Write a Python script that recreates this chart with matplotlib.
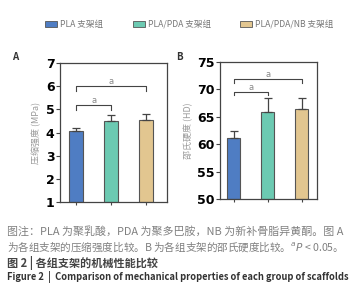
import matplotlib
matplotlib.use("Agg")
import matplotlib.pyplot as plt
from matplotlib.patches import Rectangle

plt.rcParams['font.family'] = ['Noto Sans CJK SC', 'DejaVu Sans']

groups = ["PLA 支架组", "PLA/PDA 支架组", "PLA/PDA/NB 支架组"]
colors = ["#4f7dc3", "#6ccab2", "#e2c690"]

strength = [4.08, 4.48, 4.52]
strength_err = [0.10, 0.28, 0.28]
hardness = [61.2, 65.9, 66.5]
hardness_err = [1.3, 2.6, 2.0]

brk_A = [(0, 1, 5.17, 4.98), (0, 2, 6.0, 5.8)]
brk_B = [(0, 1, 69.6, 68.9), (0, 2, 71.9, 71.2)]

fig = plt.figure(figsize=(3.54, 3.0), dpi=100)
W, H = 354, 300

def ax_at(x0, y0, x1, y1):
    return fig.add_axes([x0 / W, 1 - y1 / H, (x1 - x0) / W, (y1 - y0) / H])

def panel(ax, vals, errs, ylim, yticks, ylabel, brks, xlim, width):
    x = range(len(vals))
    base = ylim[0]
    ax.bar(x, [v - base for v in vals], width=width, color=colors, edgecolor="#555555",
           linewidth=0.8, zorder=2, bottom=base)
    for i, (v, e) in enumerate(zip(vals, errs)):
        ax.errorbar(i, v, yerr=[[0], [e]], color="#444444", capsize=3, elinewidth=0.9,
                    capthick=0.9, zorder=3)
    ax.set_ylim(*ylim)
    ax.set_xlim(*xlim)
    ax.set_yticks(yticks)
    ax.set_yticklabels([str(t) for t in yticks], fontweight="bold", fontsize=9,
                       family="DejaVu Sans")
    ax.set_xticks(list(x))
    ax.set_xticklabels([])
    ax.tick_params(axis="x", length=2.5, width=0.8, color="#444444")
    ax.tick_params(axis="y", length=3, width=0.8, pad=1, color="#444444")
    for s in ax.spines.values():
        s.set_linewidth(0.9)
        s.set_color("#444444")
    ax.set_ylabel(ylabel, color="#9a9a9a", fontsize=6.5, labelpad=3)
    for (a, b, top, low) in brks:
        ax.plot([a, a, b, b], [low, top, top, low], color="#444444", lw=0.8, zorder=4)
        ax.text((a + b) / 2, top, "a", ha="center", va="bottom", fontsize=6,
                color="#888888", family="DejaVu Sans")

axA = ax_at(60, 63, 167, 202)
panel(axA, strength, strength_err, (1, 7), [1, 2, 3, 4, 5, 6, 7], "压缩强度 (MPa)",
      brk_A, (-0.47, 2.6), 0.4)
axB = ax_at(220, 62, 317, 199)
panel(axB, hardness, hardness_err, (50, 75), [50, 55, 60, 65, 70, 75], "邵氏硬度 (HD)",
      brk_B, (-0.4, 2.45), 0.4)

fig.text(12 / W, 1 - 57 / H, "A", fontsize=7, fontweight="bold", ha="left", va="center",
         color="#333333")
fig.text(176 / W, 1 - 57 / H, "B", fontsize=7, fontweight="bold", ha="left", va="center",
         color="#333333")

# legend
leg_x = [45, 133, 240]
for lx, g, c in zip(leg_x, groups, colors):
    fig.patches.append(Rectangle((lx / W, 1 - 26.5 / H), 12 / W, 5 / H, transform=fig.transFigure,
                                 facecolor=c, edgecolor="#555555", linewidth=0.6))
    fig.text((lx + 15) / W, 1 - 24 / H, g, fontsize=6.2, color="#777777", ha="left",
             va="center")

# caption
cap1 = "图注：PLA 为聚乳酸，PDA 为聚多巴胺，NB 为新补骨脂异黄酮。图 A"
cap2 = "为各组支架的压缩强度比较。B 为各组支架的邵氏硬度比较。$^{a}P$ < 0.05。"
cap3 = "图 2 | 各组支架的机械性能比较"
cap4 = "Figure 2  |  Comparison of mechanical properties of each group of scaffolds"
fig.text(7 / W, 1 - 231 / H, cap1, fontsize=7.9, color="#808080", ha="left", va="center")
fig.text(7 / W, 1 - 247 / H, cap2, fontsize=7.6, color="#808080", ha="left", va="center")
fig.text(7 / W, 1 - 263 / H, cap3, fontsize=8.0, color="#444444", ha="left", va="center",
         fontweight="bold")
fig.text(7 / W, 1 - 277 / H, cap4, fontsize=6.75, color="#333333", ha="left", va="center",
         fontweight="bold")

fig.savefig("out.png", dpi=100)
